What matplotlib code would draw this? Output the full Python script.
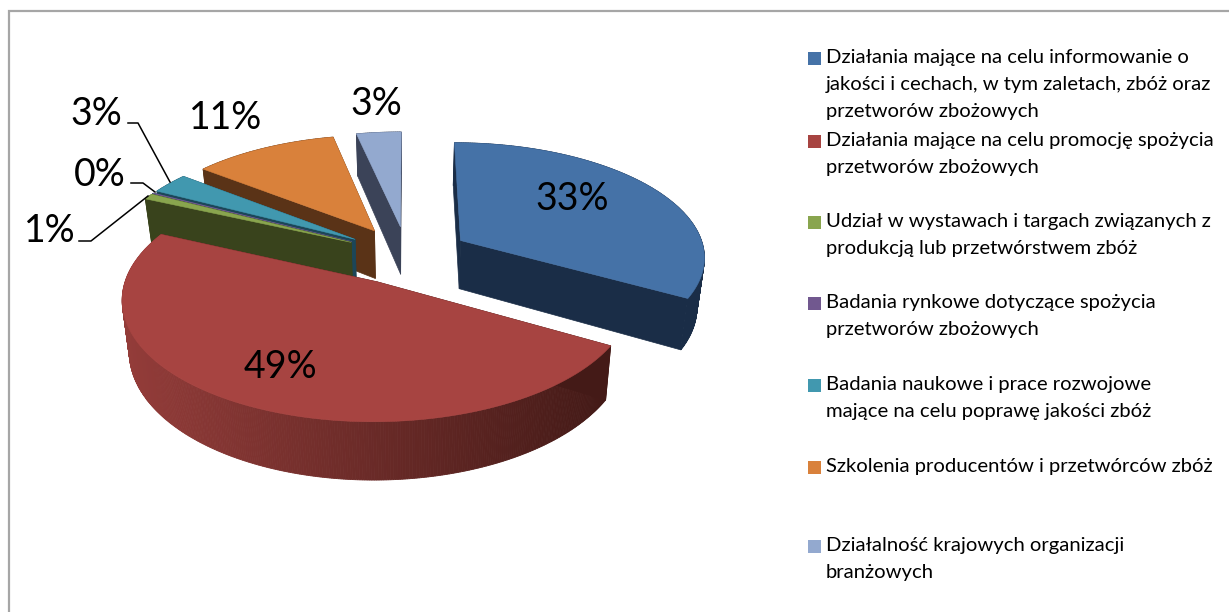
import numpy as np
import matplotlib
matplotlib.use('Agg')
import matplotlib.pyplot as plt
from matplotlib.colors import to_rgb
from matplotlib.patches import Rectangle, Polygon

plt.rcParams['font.family'] = ['Lato', 'DejaVu Sans']

# data
values = [33.2, 48.6, 0.8, 0.1, 2.9, 11.0, 3.4]
pct_labels = ['33%', '49%', '1%', '0%', '3%', '11%', '3%']
legend_lines = [
    ['Działania mające na celu informowanie o',
     'jakości i cechach, w tym zaletach, zbóż oraz',
     'przetworów zbożowych'],
    ['Działania mające na celu promocję spożycia',
     'przetworów zbożowych'],
    ['Udział w wystawach i targach związanych z',
     'produkcją lub przetwórstwem zbóż'],
    ['Badania rynkowe dotyczące spożycia',
     'przetworów zbożowych'],
    ['Badania naukowe i prace rozwojowe',
     'mające na celu poprawę jakości zbóż'],
    ['Szkolenia producentów i przetwórców zbóż'],
    ['Działalność krajowych organizacji',
     'branżowych'],
]
colors = ['#4572a7', '#a74441', '#89a54e', '#71588f', '#4198af', '#d9813b', '#93a9cf']
cut_colors = ['#1a2d47', '#441a17', '#39431c', '#1c4658', '#1c4658', '#5a3317', '#3b4358']
legend_y = [63, 146, 227, 308, 390, 472, 551]
label_xy = [(572, 199), (280, 367), (50, 231), (100, 175), (96, 114), (226, 118), (376, 104)]

# projection of the pie, in pixels
CX, CY = 407, 255
RX, RY = 245, 114
PERSP = 0.13
EXPLODE = 0.257
DEPTH = 49
SQUEEZE = 0.975


def project(gx, gy, bottom=False):
    s = 1 / (1 - PERSP * gy)
    x = RX * gx * s
    y = RY * gy * s
    if bottom:
        return CX + x * SQUEEZE, CY + y + DEPTH * s
    return CX + x, CY + y


fig = plt.figure(figsize=(12.29, 6.12), dpi=100)
ax = fig.add_axes([0, 0, 1, 1])
ax.set_xlim(0, 1229)
ax.set_ylim(612, 0)
ax.axis('off')

ax.add_patch(Rectangle((8.5, 11), 1240, 640, fc='white', ec='#a6a6a6', lw=1.6))

fr = np.array(values) / sum(values)
edges = np.concatenate([[0], np.cumsum(fr)]) * 2 * np.pi


def draw_slice(i):
    a0, a1 = edges[i], edges[i + 1]
    mid = (a0 + a1) / 2
    ox, oy = EXPLODE * np.sin(mid), -EXPLODE * np.cos(mid)
    th = np.linspace(a0, a1, max(int((a1 - a0) * 120), 4))
    gx = ox + np.sin(th)
    gy = oy - np.cos(th)

    # outer wall, shaded from left to right
    tx, ty = project(gx, gy)
    bx, by = project(gx, gy, bottom=True)
    base = np.array(to_rgb(cut_colors[i]))
    light = np.array(to_rgb(colors[i]))
    for k in range(len(th) - 1):
        if i == 1:
            t = np.clip((tx[k] - 125) / 480, 0, 1)
            c = light * 0.88 * (1 - t) + base * t
        else:
            c = base
        ax.add_patch(Polygon([(tx[k], ty[k]), (tx[k + 1], ty[k + 1]),
                              (bx[k + 1], by[k + 1]), (bx[k], by[k])],
                             fc=c, ec=c, lw=0.6, zorder=i_z[i]))

    # the two cut faces
    ax0, ay0 = project(np.array([ox]), np.array([oy]))
    bx0, by0 = project(np.array([ox]), np.array([oy]), bottom=True)
    for j in (0, -1):
        ax.add_patch(Polygon([(ax0[0], ay0[0]), (tx[j], ty[j]), (bx[j], by[j]), (bx0[0], by0[0])],
                             fc=cut_colors[i], ec=cut_colors[i], lw=0.5, zorder=i_z[i]))

    # top face
    ax.add_patch(Polygon(np.r_[[[ax0[0], ay0[0]]], np.c_[tx, ty]],
                         fc=colors[i], ec=colors[i], lw=0.4, zorder=i_z[i] + 0.5))


# back to front
i_z = {6: 2, 5: 3, 4: 4, 3: 5, 2: 6, 0: 7, 1: 8}
for i in i_z:
    draw_slice(i)

for txt, (x, y) in zip(pct_labels, label_xy):
    ax.text(x, y, txt, fontsize=27, color='black', ha='center', va='center', zorder=20)

# leader lines
for xs, ys in [([128, 138, 170], [123, 123, 182]),
               ([131, 143, 155], [183, 183, 192]),
               ([79, 91, 148], [241, 241, 196])]:
    ax.plot(xs, ys, color='black', lw=1.1, zorder=20)

# legend
for lines, col, y0 in zip(legend_lines, colors, legend_y):
    ax.add_patch(Rectangle((808, y0 - 11), 13, 13, fc=col, ec='none', zorder=20))
    for n, line in enumerate(lines):
        ax.text(826, y0 + 27 * n, line, fontsize=14.6, color='black', ha='left', va='baseline', zorder=20)

fig.savefig('out.png', dpi=100)
